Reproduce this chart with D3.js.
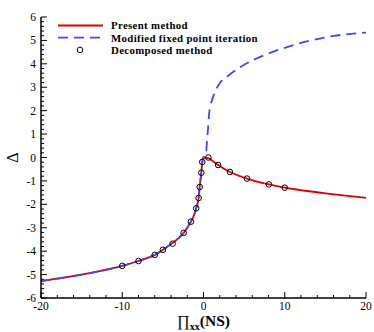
<!DOCTYPE html>
<html>
<head>
<meta charset="utf-8">
<script src="https://cdn.jsdelivr.net/npm/d3@7"></script>
<style>
  body { margin: 0; background: #fff; }
  text { font-family: "Liberation Serif", "Times New Roman", serif; }
</style>
</head>
<body>
<div id="chart"></div>
<script>
// left branch, shared by present method and fixed point iteration
const leftX = [-20, -17, -15, -12.5, -10, -8, -6, -5, -4, -3, -2.45, -2, -1.55, -1.2, -0.9, -0.6, -0.47, -0.27, -0.15, 0];
const leftY = [-5.28, -5.12, -5.0, -4.83, -4.63, -4.42, -4.16, -3.94, -3.7, -3.42, -3.22, -3.0, -2.74, -2.5, -2.17, -1.73, -1.26, -0.65, -0.19, 0];

// present method, right branch
const presentX = [0, 0.6, 1, 1.8, 3.25, 5.35, 8.05, 10, 12.5, 15, 17.5, 20];
const presentY = [0, -0.03, -0.12, -0.32, -0.62, -0.9, -1.15, -1.29, -1.42, -1.53, -1.63, -1.72];

// modified fixed point iteration, right branch
const fixedX = [0, 0.3, 0.45, 0.55, 0.7, 1.2, 2, 2.9, 4.3, 6.1, 8.6, 11.9, 16, 20];
const fixedY = [0, 0.15, 0.8, 1.2, 1.9, 2.6, 3.17, 3.45, 3.81, 4.16, 4.52, 4.88, 5.19, 5.33];

// decomposed method
const decompX = [-10, -8, -6, -5, -3.8, -2.45, -1.55, -0.9, -0.6, -0.47, -0.27, -0.15, 0.6, 1.8, 3.25, 5.35, 8.05, 10];
const decompY = [-4.63, -4.42, -4.16, -3.94, -3.68, -3.22, -2.74, -2.17, -1.73, -1.26, -0.65, -0.19, 0, -0.32, -0.62, -0.9, -1.15, -1.29];

const xTicks = [-20, -10, 0, 10, 20];
const yTicks = [-6, -5, -4, -3, -2, -1, 0, 1, 2, 3, 4, 5, 6];

const legendLabels = ["Present method", "Modified fixed point iteration", "Decomposed method"];

const width = 374, height = 332;
const red = "#dd0000", blue = "#4444ff";

const svg = d3.select("#chart").append("svg")
  .attr("width", width)
  .attr("height", height);

const x = d3.scaleLinear().domain([-20, 20]).range([41, 366]);
const y = d3.scaleLinear().domain([-6, 6]).range([298, 17]);

const zip = (xs, ys) => xs.map((v, i) => [v, ys[i]]);
const line = d3.line()
  .x(d => x(d[0]))
  .y(d => y(d[1]))
  .curve(d3.curveMonotoneX);

const left = zip(leftX, leftY);
const presentRight = zip(presentX, presentY);
const fixedRight = zip(fixedX, fixedY);

// red: present method
svg.append("path")
  .datum(left.concat(presentRight.slice(1)))
  .attr("d", line)
  .attr("fill", "none")
  .attr("stroke", red)
  .attr("stroke-width", 1.8);

// blue dashed: fixed point iteration
svg.append("path")
  .datum(left.concat(fixedRight.slice(1)))
  .attr("d", line)
  .attr("fill", "none")
  .attr("stroke", blue)
  .attr("stroke-width", 1.8)
  .attr("stroke-dasharray", "10,6");

// circles
svg.selectAll(".pt")
  .data(zip(decompX, decompY))
  .enter().append("circle")
  .attr("class", "pt")
  .attr("cx", d => x(d[0]))
  .attr("cy", d => y(d[1]))
  .attr("r", 2.8)
  .attr("fill", "none")
  .attr("stroke", "#000")
  .attr("stroke-width", 1);

// x axis with inward ticks
const xAxis = svg.append("g")
  .attr("transform", "translate(0," + y(-6) + ")");
xAxis.append("line")
  .attr("x1", x(-20)).attr("x2", x(20))
  .attr("stroke", "#000").attr("stroke-width", 1.5);
xAxis.selectAll(".minor")
  .data(d3.range(-20, 20.1, 2))
  .enter().append("line")
  .attr("x1", d => x(d)).attr("x2", d => x(d))
  .attr("y1", 0)
  .attr("y2", d => (d % 10 === 0 ? -6 : -3))
  .attr("stroke", "#000").attr("stroke-width", 1);
xAxis.selectAll(".lbl")
  .data(xTicks)
  .enter().append("text")
  .attr("x", d => x(d))
  .attr("y", 12)
  .attr("text-anchor", "middle")
  .attr("font-size", 11.5)
  .text(d => d);

// y axis with inward ticks
const yAxis = svg.append("g")
  .attr("transform", "translate(" + x(-20) + ",0)");
yAxis.append("line")
  .attr("y1", y(-6)).attr("y2", y(6))
  .attr("stroke", "#000").attr("stroke-width", 1.5);
yAxis.selectAll(".minor")
  .data(d3.range(-30, 31).map(d => d / 5))
  .enter().append("line")
  .attr("y1", d => y(d)).attr("y2", d => y(d))
  .attr("x1", 0)
  .attr("x2", (d, i) => (i % 5 === 0 ? 6 : 3))
  .attr("stroke", "#000").attr("stroke-width", 1);
yAxis.selectAll(".lbl")
  .data(yTicks)
  .enter().append("text")
  .attr("x", -5)
  .attr("y", d => y(d) + 4)
  .attr("text-anchor", "end")
  .attr("font-size", 11.5)
  .text(d => d);

// axis titles
svg.append("text")
  .attr("transform", "translate(18," + y(0) + ") rotate(-90)")
  .attr("text-anchor", "middle")
  .attr("font-size", 16)
  .text("Δ");

const xTitle = svg.append("text")
  .attr("x", x(0))
  .attr("y", 325.5)
  .attr("text-anchor", "middle")
  .attr("font-size", 15.5);
xTitle.append("tspan").text("∏");
xTitle.append("tspan").attr("font-size", 10).attr("font-weight", "bold").attr("dy", 4).text("xx");
xTitle.append("tspan").attr("font-weight", "bold").attr("dy", -4).text("(NS)");

// legend
const legend = svg.append("g");
legendLabels.forEach(function(label, i) {
  const ly = 25.5 + i * 12.2;
  if (i === 0 || i === 1) {
    legend.append("line")
      .attr("x1", 58).attr("x2", 103)
      .attr("y1", ly).attr("y2", ly)
      .attr("stroke", i === 0 ? red : blue)
      .attr("stroke-width", 1.8)
      .attr("stroke-dasharray", i === 1 ? "10,6" : null);
  } else {
    legend.append("circle")
      .attr("cx", 80).attr("cy", ly).attr("r", 2.8)
      .attr("fill", "none").attr("stroke", "#000");
  }
  legend.append("text")
    .attr("x", 111)
    .attr("y", ly + 3.8)
    .attr("font-size", 10.8)
    .attr("letter-spacing", 0.35)
    .attr("font-weight", "bold")
    .text(label);
});
</script>
</body>
</html>
